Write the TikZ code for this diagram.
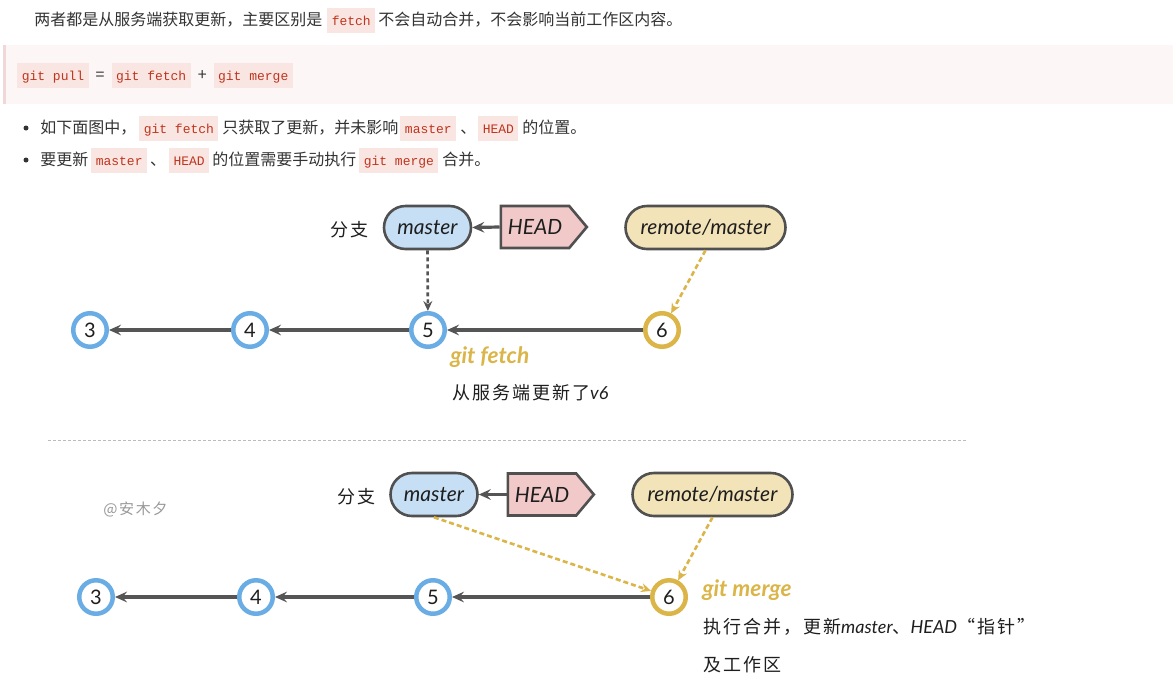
\documentclass[tikz,border=0pt]{standalone}
\usepackage{fontspec}
\setmainfont{Noto Sans CJK SC}
\newfontfamily\codefam{Liberation Mono}
\newfontfamily\hand{Lato}
\newfontfamily\cjkhand{Noto Sans CJK SC}[LetterSpace=11]
\usetikzlibrary{arrows.meta,shapes.misc,shapes.symbols}

\newlength{\pxu}\setlength{\pxu}{0.75pt}

\definecolor{bodytext}{HTML}{333333}
\definecolor{codefg}{HTML}{C0341D}
\definecolor{codebg}{HTML}{F9E6E2}
\definecolor{quotebg}{HTML}{FCF7F6}
\definecolor{quotebar}{HTML}{F0D8D8}
\definecolor{ink}{HTML}{1E1E1E}
\definecolor{edge}{HTML}{505050}
\definecolor{linkgray}{HTML}{555555}
\definecolor{bluefill}{HTML}{C6DFF5}
\definecolor{bluering}{HTML}{6AADE4}
\definecolor{goldring}{HTML}{DBB548}
\definecolor{headfill}{HTML}{F1C9C9}
\definecolor{remotefill}{HTML}{F3E3B9}
\definecolor{rulegray}{HTML}{BBBBBB}
\definecolor{markgray}{HTML}{999999}

% inline code span with a tinted background
\newcommand{\inlinecode}[1]{{\setlength{\fboxsep}{0pt}\colorbox{codebg}{\hspace{4.5\pxu}\rule[-7.5\pxu]{0pt}{24.5\pxu}{\codefam\fontsize{9.75pt}{12pt}\selectfont\color{codefg}#1}\hspace{4.5\pxu}}}}

\tikzset{
  bodyline/.style={anchor=base west, inner sep=0pt, text=bodytext,
    font=\fontsize{12pt}{14pt}\selectfont},
  bulletdot/.style={circle, fill=bodytext, inner sep=0pt, minimum size=5\pxu},
  pill/.style={rounded rectangle, draw=edge, line width=2.6\pxu,
    minimum height=43\pxu, inner xsep=4\pxu, text=ink,
    font=\hand\itshape\fontsize{15.75pt}{18pt}\selectfont},
  masterpill/.style={pill, fill=bluefill, minimum width=95\pxu},
  remotepill/.style={pill, fill=remotefill, minimum width=168\pxu},
  headtag/.style={signal, signal to=east, signal pointer angle=100,
    draw=edge, fill=headfill, line width=2.6\pxu, minimum width=86\pxu,
    minimum height=42\pxu, text=ink, inner xsep=4\pxu,
    font=\hand\itshape\fontsize{15.75pt}{18pt}\selectfont},
  commit/.style={circle, draw=bluering, fill=white, line width=4.5\pxu,
    minimum size=33.5\pxu, inner sep=0pt, text=ink,
    font=\hand\fontsize{15pt}{17pt}\selectfont},
  newcommit/.style={commit, draw=goldring},
  link/.style={draw=linkgray, line width=3.2\pxu,
    -{Stealth[length=9pt, width=8pt, inset=3.3pt]}},
  refpoint/.style={draw=linkgray, line width=2.6\pxu, dash pattern=on 4\pxu off 3\pxu,
    -{Stealth[length=7.5pt, width=6.75pt, inset=2.6pt]}},
  golddash/.style={draw=goldring, line width=2.6\pxu, dash pattern=on 5\pxu off 3\pxu,
    -{Stealth[length=7.5pt, width=6.75pt, inset=2.6pt]}},
  handnote/.style={anchor=west, inner sep=0pt, text=ink,
    font=\cjkhand\fontsize{13.5pt}{16pt}\selectfont},
  opnote/.style={anchor=west, inner sep=0pt, text=goldring,
    font=\hand\bfseries\itshape\fontsize{17pt}{19pt}\selectfont},
}

\begin{document}
\begin{tikzpicture}[x=0.75pt, y=-0.75pt]
\useasboundingbox (0,0) rectangle (1173,693);
\fill[white] (0,0) rectangle (1173,693);

% ---- article text ----
\node[bodyline] (intro) at (34,25) {两者都是从服务端获取更新，主要区别是\hspace{5\pxu}\inlinecode{fetch}\hspace{3\pxu}不会自动合并，不会影响当前工作区内容。};

\fill[quotebg] (3,45) rectangle (1173,104);
\fill[quotebar] (3,45) rectangle (6,104);
\node[bodyline] (formula) at (17,80) {\inlinecode{git pull}\hspace{7\pxu}=\hspace{7\pxu}\inlinecode{git fetch}\hspace{7\pxu}+\hspace{7\pxu}\inlinecode{git merge}};

\node[bulletdot] (dot1) at (26,128) {};
\node[bodyline] (item1) at (40,133) {如下面图中，\hspace{3\pxu}\inlinecode{git fetch}\hspace{4\pxu}只获取了更新，并未影响\hspace{2\pxu}\inlinecode{master}\hspace{4\pxu}、\hspace{2\pxu}\inlinecode{HEAD}\hspace{4\pxu}的位置。};
\node[bulletdot] (dot2) at (26,160) {};
\node[bodyline] (item2) at (40,165) {要更新\hspace{3\pxu}\inlinecode{master}\hspace{3\pxu}、\hspace{3\pxu}\inlinecode{HEAD}\hspace{3\pxu}的位置需要手动执行\hspace{3\pxu}\inlinecode{git merge}\hspace{4\pxu}合并。};

% ---- after git fetch ----
\node[handnote] (branchA) at (330,230) {分支};
\node[masterpill] (masterA) at (427.5,227.5) {master};
\node[headtag] (headA) at (535,227) {HEAD};
\node[remotepill] (remoteA) at (705.5,227.5) {remote/master};

\node[commit] (a3) at (90,330) {3};
\node[commit] (a4) at (250,330) {4};
\node[commit] (a5) at (428,330) {5};
\node[newcommit] (a6) at (662,330) {6};

\draw[link] (headA.west) -- (masterA.east);
\draw[refpoint] (masterA.south) -- (a5);
\draw[golddash] (remoteA.south) -- (a6);
\draw[link] (a6) -- (a5);
\draw[link] (a5) -- (a4);
\draw[link] (a4) -- (a3);

\node[opnote] (fetchA) at (450,357) {git fetch};
\node[handnote] (fetchNote) at (452,393) {从服务端更新了{\hand\itshape v6}};

% ---- divider ----
\coordinate (ruleL) at (48,440);
\coordinate (ruleR) at (966,440);
\draw[rulegray, line width=1\pxu, dash pattern=on 3\pxu off 2\pxu] (ruleL) -- (ruleR);

% ---- after git merge ----
\node[anchor=west, inner sep=0pt, text=markgray, font=\cjkhand\fontsize{11.25pt}{13pt}\selectfont] (mark) at (103,509) {@安木夕};

\node[handnote] (branchB) at (337,497) {分支};
\node[masterpill] (masterB) at (434,494.5) {master};
\node[headtag] (headB) at (542,494.5) {HEAD};
\node[remotepill] (remoteB) at (712.5,494.5) {remote/master};

\node[commit] (b3) at (96,597) {3};
\node[commit] (b4) at (256,597) {4};
\node[commit] (b5) at (433,597) {5};
\node[newcommit] (b6) at (669,597) {6};

\draw[link] (headB.west) -- (masterB.east);
\draw[golddash] (masterB.south) -- (b6);
\draw[golddash] (remoteB.south) -- (b6);
\draw[link] (b6) -- (b5);
\draw[link] (b5) -- (b4);
\draw[link] (b4) -- (b3);

\node[opnote] (mergeB) at (702,590) {git merge};
\node[handnote] (mergeNote1) at (703,627) {执行合并，更新{\hand\itshape master}、{\hand\itshape HEAD}“指针”};
\node[handnote] (mergeNote2) at (703,665) {及工作区};
\end{tikzpicture}
\end{document}
